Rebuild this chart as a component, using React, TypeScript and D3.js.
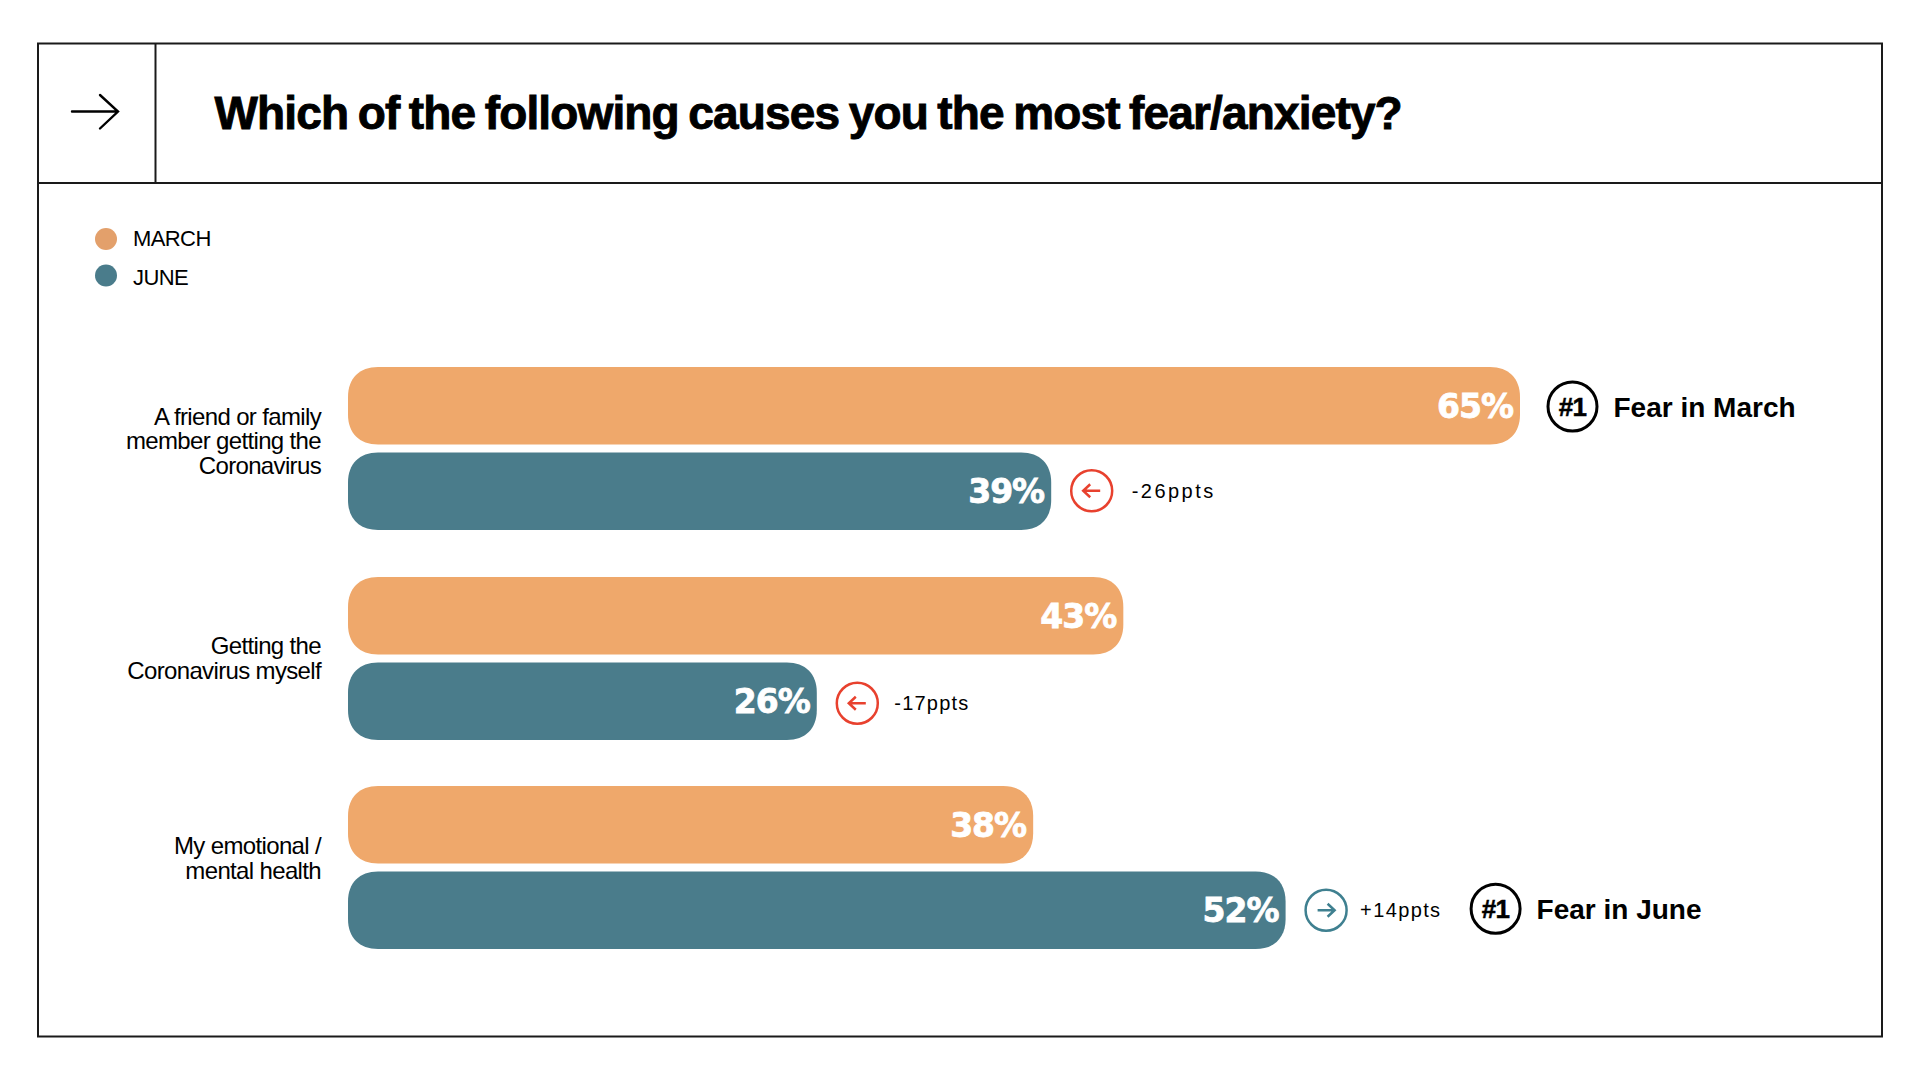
import React from "react";
import * as d3 from "d3";

const TITLE = "Which of the following causes you the most fear/anxiety?";
const SERIES_NAMES = ["MARCH", "JUNE"];
const CATEGORY_LINES = [
  ["A friend or family", "member getting the", "Coronavirus"],
  ["Getting the", "Coronavirus myself"],
  ["My emotional /", "mental health"],
];
const MARCH_VALUES = [65, 43, 38];
const JUNE_VALUES = [39, 26, 52];
const DELTA_LABELS = ["-26ppts", "-17ppts", "+14ppts"];
const BADGE_TEXT = "#1";
const MARCH_BADGE_LABELS = ["Fear in March", null, null];
const JUNE_BADGE_LABELS = [null, null, "Fear in June"];

const ORANGE = "#EFA86B";
const ORANGE_LEGEND = "#E3A06B";
const TEAL = "#4A7C8B";
const RED = "#E8412E";
const FONT = "'Liberation Sans', Arial, sans-serif";

const x = d3.scaleLinear().domain([0, 65]).range([348, 1520]);
const rowTop = d3.scaleOrdinal<number, number>().domain([0, 1, 2]).range([367, 577, 786]);
const BAR_H = 77.5;
const BAR_GAP = 8;

// layout tweaks per row
const labelShift = [-7.5, 0, -9];
const deltaCyShift = [-0.5, 2, 0];
const deltaTextDx = [40, 37, 34];
const deltaTextLen = [81.5, 74, 80];

function barPath(x0: number, x1: number, y0: number, h: number) {
  const r = 30;
  const k = 0.38;
  const p = d3.path();
  const y1 = y0 + h;
  p.moveTo(x0 + r, y0);
  p.lineTo(x1 - r, y0);
  p.bezierCurveTo(x1 - r * k, y0, x1, y0 + r * k, x1, y0 + r);
  p.lineTo(x1, y1 - r);
  p.bezierCurveTo(x1, y1 - r * k, x1 - r * k, y1, x1 - r, y1);
  p.lineTo(x0 + r, y1);
  p.bezierCurveTo(x0 + r * k, y1, x0, y1 - r * k, x0, y1 - r);
  p.lineTo(x0, y0 + r);
  p.bezierCurveTo(x0, y0 + r * k, x0 + r * k, y0, x0 + r, y0);
  p.closePath();
  return p.toString();
}

function Badge({ cx, cy, label }: { cx: number; cy: number; label: string }) {
  return (
    <g>
      <circle cx={cx} cy={cy} r={24.5} fill="#fff" stroke="#000" strokeWidth={3} />
      <text x={cx} y={cy + 9} textAnchor="middle" fontSize={26} fontWeight={700} letterSpacing={-0.6} fill="#000" stroke="#000" strokeWidth={0.5}>
        {BADGE_TEXT}
      </text>
      <text x={cx + 41} y={cy + 10} fontSize={28} fontWeight={700} fill="#000">
        {label}
      </text>
    </g>
  );
}

function Bar({ value, y, fill }: { value: number; y: number; fill: string }) {
  return (
    <g>
      <path d={barPath(x(0), x(value), y, BAR_H)} fill={fill} />
      <text
        x={x(value) - 7}
        y={y + BAR_H / 2 + 12}
        textAnchor="end"
        fontSize={33}
        fontWeight={700}
        letterSpacing={-1}
        fill="#fff"
        stroke="#fff"
        strokeWidth={0.8}
        style={{ fontFamily: "'DejaVu Sans', sans-serif" }}
      >
        {value}%
      </text>
    </g>
  );
}

export default function App() {
  return (
    <svg
      width={1920}
      height={1080}
      viewBox="0 0 1920 1080"
      style={{ position: "fixed", left: 0, top: 0, background: "#fff", fontFamily: FONT }}
    >
      <rect x={38} y={43.5} width={1844} height={993} fill="none" stroke="#1a1a1a" strokeWidth={2} />
      <line x1={38} x2={1882} y1={183} y2={183} stroke="#1a1a1a" strokeWidth={2} />
      <line x1={155.5} x2={155.5} y1={43.5} y2={183} stroke="#1a1a1a" strokeWidth={2} />
      <path d="M72,111.5 H118 M100,95 L118,111.5 L100,128.5" fill="none" stroke="#000" strokeWidth={2.4} strokeLinecap="round" />
      <text x={214.5} y={128.5} fontSize={46} fontWeight={700} letterSpacing={-0.85} wordSpacing={-2.5} fill="#000" stroke="#000" strokeWidth={0.9}>
        {TITLE}
      </text>

      {SERIES_NAMES.map((name, i) => (
        <g key={name}>
          <circle cx={106} cy={i === 0 ? 239 : 275.5} r={11} fill={i === 0 ? ORANGE_LEGEND : TEAL} />
          <text x={133} y={i === 0 ? 246 : 285} fontSize={22} letterSpacing={-0.6} fill="#000">
            {name}
          </text>
        </g>
      ))}

      {CATEGORY_LINES.map((lines, i) => {
        const top = rowTop(i);
        const juneY = top + BAR_H + BAR_GAP;
        const mid = top + BAR_H + BAR_GAP / 2 + labelShift[i];
        const lh = 24.5;
        const firstBase = mid - ((lines.length - 1) * lh) / 2 + 8;
        const end = x(JUNE_VALUES[i]);
        const juneCy = juneY + BAR_H / 2;
        const cy = juneCy + deltaCyShift[i];
        const isDown = JUNE_VALUES[i] < MARCH_VALUES[i];
        const col = isDown ? RED : "#3F8090";
        const cx = end + 40.5;
        const dir = isDown ? -1 : 1;
        return (
          <g key={i}>
            {lines.map((line, j) => (
              <text key={line} x={321} y={firstBase + j * lh} textAnchor="end" fontSize={24} letterSpacing={-0.65} fill="#000">
                {line}
              </text>
            ))}
            <Bar value={MARCH_VALUES[i]} y={top} fill={ORANGE} />
            <Bar value={JUNE_VALUES[i]} y={juneY} fill={TEAL} />
            <circle cx={cx} cy={cy} r={20.5} fill="none" stroke={col} strokeWidth={2.5} />
            <path
              d={`M${cx - 8.5 * dir},${cy} H${cx + 8.5 * dir} M${cx + 1.5 * dir},${cy - 6.5} L${cx + 8.5 * dir},${cy} L${cx + 1.5 * dir},${cy + 6.5}`}
              fill="none"
              stroke={col}
              strokeWidth={2.5}
            />
            <text
              x={cx + deltaTextDx[i]}
              y={cy + 7}
              fontSize={20}
              textLength={deltaTextLen[i]}
              lengthAdjust="spacing"
              fill="#000"
            >
              {DELTA_LABELS[i]}
            </text>
            {MARCH_BADGE_LABELS[i] && (
              <Badge cx={x(MARCH_VALUES[i]) + 52.5} cy={top + 39.5} label={MARCH_BADGE_LABELS[i] as string} />
            )}
            {JUNE_BADGE_LABELS[i] && <Badge cx={end + 210} cy={juneCy - 1.5} label={JUNE_BADGE_LABELS[i] as string} />}
          </g>
        );
      })}
    </svg>
  );
}
